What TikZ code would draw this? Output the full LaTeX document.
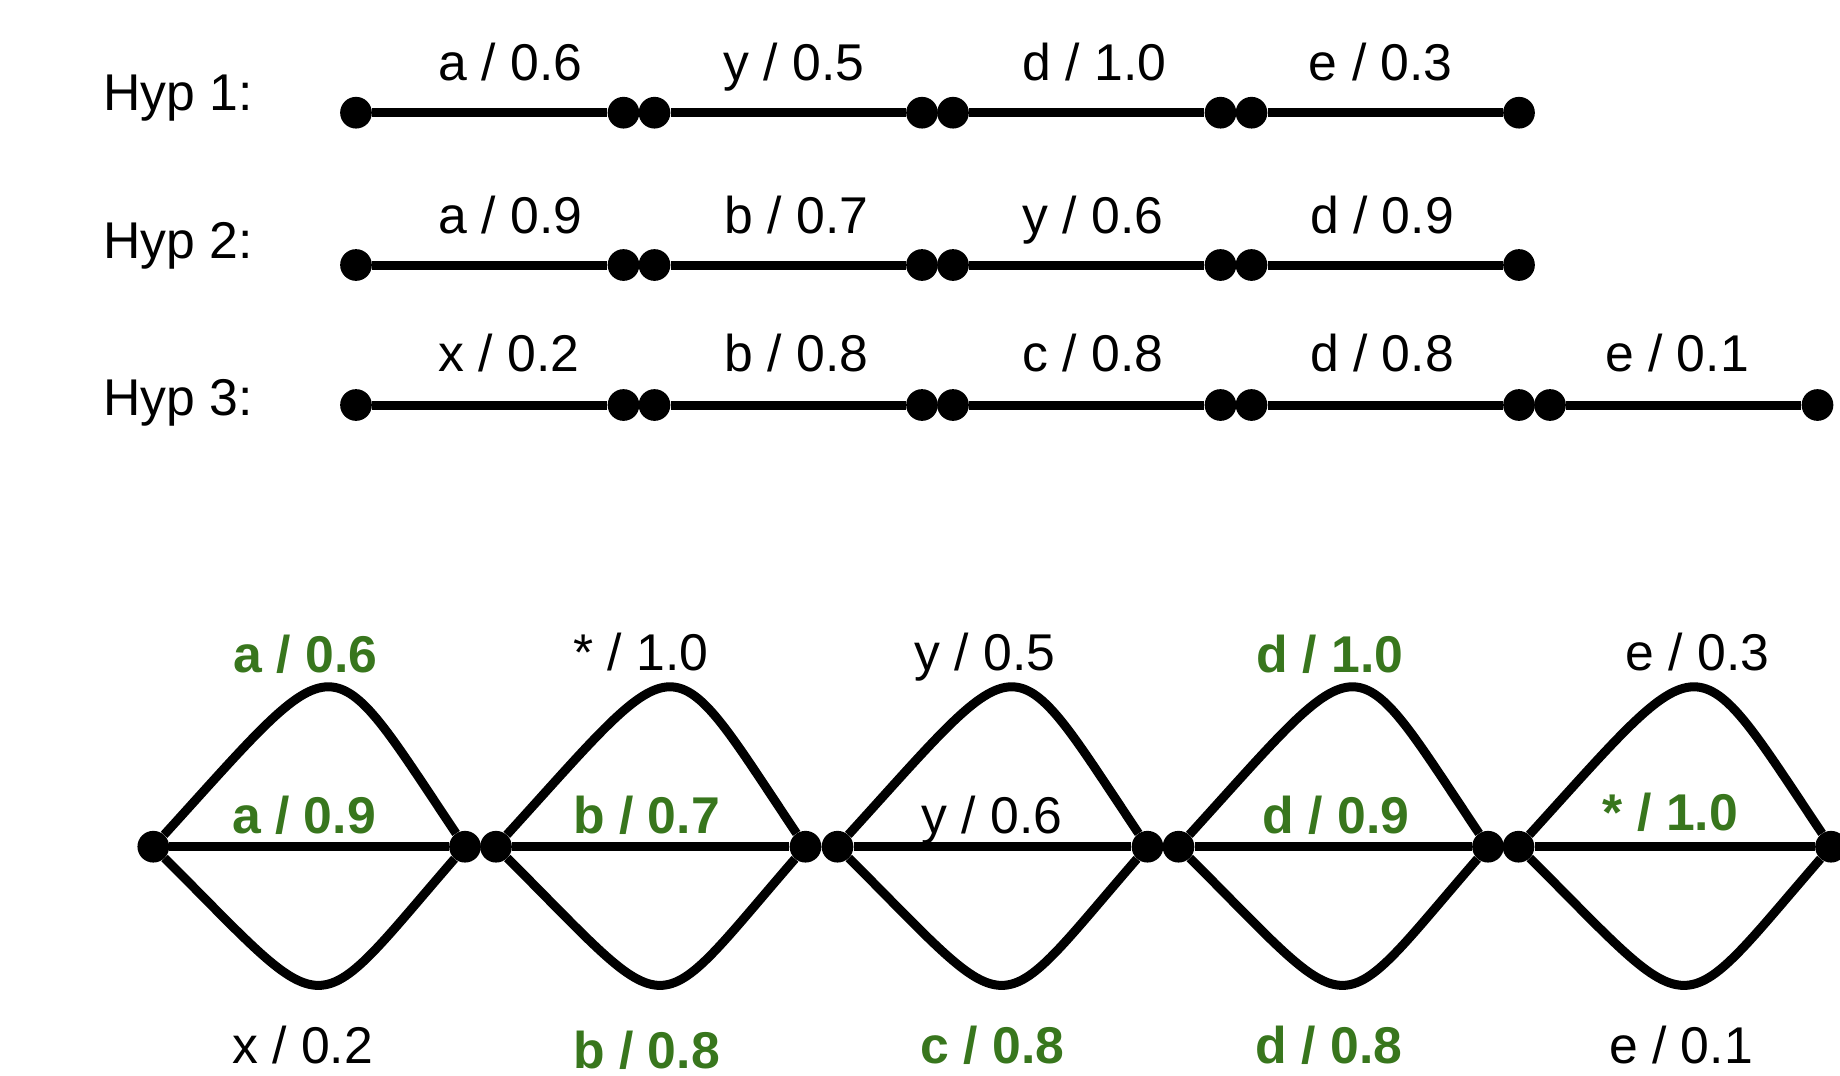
\documentclass[tikz,border=0pt]{standalone}
\usepackage{fontspec}
\setmainfont{Liberation Sans}
\definecolor{hl}{HTML}{38761D}
\begin{document}
\begin{tikzpicture}[x=1pt,y=-1pt,
  dot/.style={circle,fill=black,inner sep=0pt,minimum size=31.7pt},
  edge/.style={line width=9pt,line join=round},
  lbl/.style={anchor=base,inner sep=0pt,font=\fontsize{51.7pt}{60pt}\selectfont},
  glbl/.style={anchor=base,inner sep=0pt,text=hl,font=\fontsize{51.7pt}{60pt}\selectfont\bfseries},
  hyp/.style={anchor=base west,inner sep=0pt,font=\fontsize{51.7pt}{60pt}\selectfont},
]
\useasboundingbox (0,0) rectangle (1840,1076);

% ---- Hypotheses ----
\node[hyp] (hyp1) at (103,110) {Hyp 1:};
\node[hyp] (hyp2) at (103,258.3) {Hyp 2:};
\node[hyp] (hyp3) at (103,415) {Hyp 3:};

\foreach \i/\s in {0/356, 1/654.5, 2/953, 3/1251.5} {
  \node[dot] (p\i s) at (\s,112.7) {};
  \node[dot] (p\i e) at (\s+267.5,112.7) {};
  \draw[edge] (p\i s) -- (p\i e);
}
\foreach \i/\s in {0/356, 1/654.5, 2/953, 3/1251.5} {
  \node[dot] (q\i s) at (\s,265) {};
  \node[dot] (q\i e) at (\s+267.5,265) {};
  \draw[edge] (q\i s) -- (q\i e);
}
\foreach \i/\s in {0/356, 1/654.5, 2/953, 3/1251.5, 4/1550} {
  \node[dot] (r\i s) at (\s,405) {};
  \node[dot] (r\i e) at (\s+267.5,405) {};
  \draw[edge] (r\i s) -- (r\i e);
}

\node[lbl] (pl0) at (510.5,80) {a / 0.6};
\node[lbl] (pl1) at (794,80) {y / 0.5};
\node[lbl] (pl2) at (1094.6,80) {d / 1.0};
\node[lbl] (pl3) at (1380.8,80) {e / 0.3};

\node[lbl] (ql0) at (510.5,233.3) {a / 0.9};
\node[lbl] (ql1) at (796.6,233.3) {b / 0.7};
\node[lbl] (ql2) at (1093,233.3) {y / 0.6};
\node[lbl] (ql3) at (1382,233.3) {d / 0.9};

\node[lbl] (rl0) at (509,371.7) {x / 0.2};
\node[lbl] (rl1) at (796.6,371.7) {b / 0.8};
\node[lbl] (rl2) at (1093,371.7) {c / 0.8};
\node[lbl] (rl3) at (1382,371.7) {d / 0.8};
\node[lbl] (rl4) at (1677,371.7) {e / 0.1};

% ---- Lattice ----
\foreach \i/\s/\e in {0/153.3/465, 1/496/805.5, 2/837.5/1147.5, 3/1178.5/1488, 4/1518.5/1831} {
  \node[dot] (l\i s) at (\s,846.7) {};
  \node[dot] (l\i e) at (\e,846.7) {};
  \draw[edge] (l\i s) -- (l\i e);
  \draw[edge] (l\i s) .. controls +(190,-209) and +(-140,-209) .. (l\i e);
  \draw[edge] (l\i s) .. controls +(181,181) and +(-157,181) .. (l\i e);
}

\node[glbl] (t0) at (305.5,672) {a / 0.6};
\node[lbl]  (t1) at (641,670) {* / 1.0};
\node[lbl]  (t2) at (985,670) {y / 0.5};
\node[glbl] (t3) at (1330,672) {d / 1.0};
\node[lbl]  (t4) at (1697.5,670) {e / 0.3};

\node[glbl] (m0) at (304,833) {a / 0.9};
\node[glbl] (m1) at (646.5,833) {b / 0.7};
\node[lbl]  (m2) at (992,833) {y / 0.6};
\node[glbl] (m3) at (1336,833) {d / 0.9};
\node[glbl] (m4) at (1670.5,830) {* / 1.0};

\node[lbl]  (b0) at (302.5,1063.3) {x / 0.2};
\node[glbl] (b1) at (646.5,1068) {b / 0.8};
\node[glbl] (b2) at (992.5,1063.3) {c / 0.8};
\node[glbl] (b3) at (1329,1063.3) {d / 0.8};
\node[lbl]  (b4) at (1681,1063.3) {e / 0.1};
\end{tikzpicture}
\end{document}
